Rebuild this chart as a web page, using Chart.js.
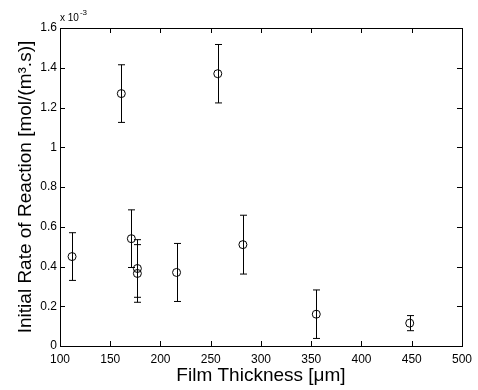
<!DOCTYPE html>
<html>
<head>
<meta charset="utf-8">
<script src="https://cdn.jsdelivr.net/npm/chart.js@4"></script>
<style>
  html, body { margin: 0; padding: 0; background: #fff; }
  #wrap { width: 478px; height: 390px; }
</style>
</head>
<body>
<div id="wrap"><canvas id="rateChart" width="478" height="390"></canvas></div>
<script>
// film thickness [um] and initial rate [x 1e-3 mol/(m3.s)], with symmetric error
const thickness = [112, 161, 171, 177, 177, 216, 257, 282, 355, 448];
const rate      = [0.45, 1.27, 0.54, 0.39, 0.365, 0.37, 1.37, 0.51, 0.16, 0.115];
const rateErr   = [0.12, 0.145, 0.145, 0.145, 0.145, 0.146, 0.147, 0.148, 0.122, 0.038];

const xTicks = [100, 150, 200, 250, 300, 350, 400, 450, 500];
const yTicks = [0, 0.2, 0.4, 0.6, 0.8, 1, 1.2, 1.4, 1.6];

const FONT = '"Liberation Sans", Arial, Helvetica, sans-serif';

// error bars, inward tick marks, box and the exponent label
const matlabAxes = {
  id: 'matlabAxes',
  afterDatasetsDraw(chart) {
    const ctx = chart.ctx;
    const xs = chart.scales.x, ys = chart.scales.y;
    const area = chart.chartArea;
    ctx.save();
    ctx.strokeStyle = '#000';
    ctx.lineWidth = 1;

    // error bars
    thickness.forEach((t, i) => {
      const px = Math.round(xs.getPixelForValue(t)) + 0.5;
      const top = ys.getPixelForValue(rate[i] + rateErr[i]);
      const bot = ys.getPixelForValue(rate[i] - rateErr[i]);
      ctx.beginPath();
      ctx.moveTo(px, top); ctx.lineTo(px, bot);
      ctx.moveTo(px - 3.5, top); ctx.lineTo(px + 3.5, top);
      ctx.moveTo(px - 3.5, bot); ctx.lineTo(px + 3.5, bot);
      ctx.stroke();
    });

    // box
    ctx.strokeRect(Math.round(area.left) + 0.5, Math.round(area.top) + 0.5,
      Math.round(area.right - area.left), Math.round(area.bottom - area.top));

    // ticks pointing inward on all four sides
    const tl = 5;
    ctx.beginPath();
    xTicks.forEach(v => {
      const px = Math.round(xs.getPixelForValue(v)) + 0.5;
      ctx.moveTo(px, area.bottom); ctx.lineTo(px, area.bottom - tl);
      ctx.moveTo(px, area.top); ctx.lineTo(px, area.top + tl);
    });
    yTicks.forEach(v => {
      const py = Math.round(ys.getPixelForValue(v)) + 0.5;
      ctx.moveTo(area.left, py); ctx.lineTo(area.left + tl, py);
      ctx.moveTo(area.right, py); ctx.lineTo(area.right - tl, py);
    });
    ctx.stroke();

    // exponent
    ctx.fillStyle = '#000';
    ctx.textBaseline = 'alphabetic';
    ctx.textAlign = 'left';
    ctx.font = '10px ' + FONT;
    ctx.fillText('x 10', area.left, 21);
    const w = ctx.measureText('x 10').width;
    ctx.font = '8px ' + FONT;
    ctx.fillText('-3', area.left + w + 1, 15);
    ctx.restore();
  }
};

new Chart(document.getElementById('rateChart'), {
  type: 'scatter',
  data: {
    datasets: [{
      data: thickness.map((t, i) => ({ x: t, y: rate[i] })),
      pointStyle: 'circle',
      pointRadius: 4,
      pointHoverRadius: 4,
      borderColor: '#000',
      backgroundColor: 'rgba(0,0,0,0)',
      borderWidth: 1,
    }]
  },
  options: {
    responsive: false,
    animation: false,
    events: [],
    layout: { padding: { top: 28, right: 12, left: 0, bottom: 0 } },
    plugins: { legend: { display: false }, tooltip: { enabled: false } },
    scales: {
      x: {
        type: 'linear', min: 100, max: 500,
        afterBuildTicks: s => { s.ticks = xTicks.map(v => ({ value: v })); },
        afterFit: s => { s.height = 44; },
        grid: { display: false, drawTicks: false },
        border: { display: false },
        ticks: { color: '#000', padding: 6, font: { family: FONT, size: 12 }, maxRotation: 0 },
        title: { display: true, text: 'Film Thickness [\u03bcm]', color: '#000',
                 font: { family: FONT, size: 19 }, padding: { top: 0, bottom: 3 } }
      },
      y: {
        type: 'linear', min: 0, max: 1.6,
        afterBuildTicks: s => { s.ticks = yTicks.map(v => ({ value: v })); },
        afterFit: s => { s.width = 60; },
        grid: { display: false, drawTicks: false },
        border: { display: false },
        ticks: { color: '#000', padding: 3, font: { family: FONT, size: 12 },
                 callback: v => String(+v.toFixed(1)) },
        title: { display: true, text: 'Initial Rate of Reaction [mol/(m\u00b3.s)]', color: '#000',
                 font: { family: FONT, size: 19 }, padding: { top: 14, bottom: 0 } }
      }
    }
  },
  plugins: [matlabAxes]
});
</script>
</body>
</html>
